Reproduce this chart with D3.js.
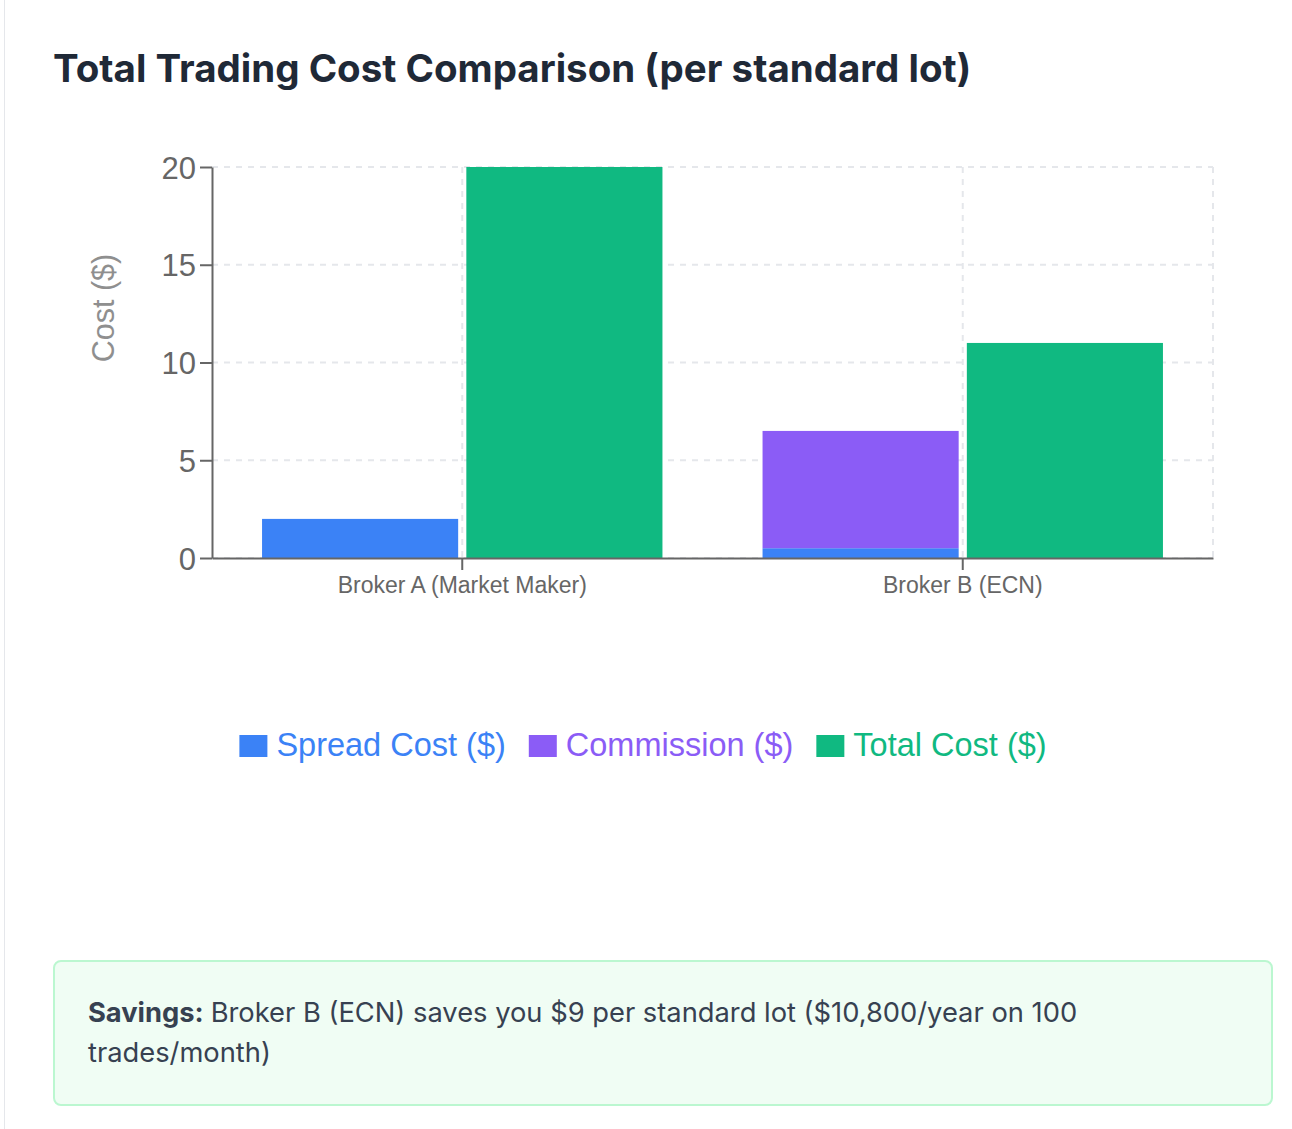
<!DOCTYPE html>
<html>
<head>
<meta charset="utf-8">
<script src="https://cdn.jsdelivr.net/npm/d3@7"></script>
<style>
  html, body { margin: 0; padding: 0; background: #fff; }
  body { width: 1292px; height: 1129px; position: relative; overflow: hidden; }
  .card {
    position: absolute; left: 4px; top: -20px; width: 1340px; height: 1200px;
    border: 1px solid #e5e7eb; border-radius: 10px; box-sizing: border-box;
  }
  #chart { position: absolute; left: 0; top: 0; }
  .savings {
    position: absolute; left: 53px; top: 960px; width: 1220px; height: 146px;
    box-sizing: border-box; background: #f0fdf4; border: 2px solid #bbf7d0;
    border-radius: 8px; padding: 31px 33px;
    font-family: Inter, "Noto Sans", sans-serif; font-size: 27.3px; line-height: 40px;
    color: #374151;
  }
  .savings p { margin: 0; max-width: 1050px; }
  .savings b { margin-right: 7px; }
</style>
</head>
<body>
<div class="card"></div>
<div id="chart"></div>
<div class="savings"><p><b>Savings:</b>Broker B (ECN) saves you $9 per standard lot ($10,800/year on 100 trades/month)</p></div>
<script>
// chart values
const categories = ["Broker A (Market Maker)", "Broker B (ECN)"];
const spreadCost = [2, 0.5];
const commission = [0, 6];
const totalCost = [20, 11];
const yTicks = [0, 5, 10, 15, 20];

const colors = { spread: "#3b82f6", commission: "#8b5cf6", total: "#10b981" };
const legendItems = [
    { label: "Spread Cost ($)", color: colors.spread },
    { label: "Commission ($)", color: colors.commission },
    { label: "Total Cost ($)", color: colors.total }
];

const width = 1292, height = 940;
const plot = { left: 212, right: 1213, top: 167, bottom: 558 };
const tickFont = "Helvetica, Arial, 'Liberation Sans', sans-serif";

const svg = d3.select("#chart").append("svg")
    .attr("width", width)
    .attr("height", height);

// Title
svg.append("text")
    .attr("x", 53).attr("y", 82)
    .style("font-family", "Inter, 'Noto Sans', sans-serif")
    .style("font-weight", 700)
    .style("font-size", "38.5px")
    .style("fill", "#1f2937")
    .text("Total Trading Cost Comparison (per standard lot)");

const x = d3.scaleBand()
    .domain(categories)
    .range([plot.left, plot.right]);

const y = d3.scaleLinear()
    .domain([0, 20])
    .range([plot.bottom, plot.top]);

// inner grouping: stacked (spread+commission) and total
const group = d3.scaleBand()
    .domain(["stack", "total"])
    .range([x.bandwidth() * 0.1, x.bandwidth() * 0.9])
    .paddingInner(8 / 200);

// Grid
const grid = svg.append("g")
    .attr("stroke", "#e5e7eb")
    .attr("stroke-width", 2)
    .attr("stroke-dasharray", "6 6");

grid.selectAll(".hgrid")
    .data(yTicks)
    .enter().append("line")
    .attr("x1", plot.left).attr("x2", plot.right)
    .attr("y1", d => y(d)).attr("y2", d => y(d));

const vLines = categories.map(c => x(c) + x.bandwidth() / 2).concat([plot.right]);
grid.selectAll(".vgrid")
    .data(vLines)
    .enter().append("line")
    .attr("x1", d => d).attr("x2", d => d)
    .attr("y1", plot.top).attr("y2", plot.bottom);

// Bars
const rows = categories.map((c, i) => ({
    cat: c, spread: spreadCost[i], commission: commission[i], total: totalCost[i]
}));

const bars = svg.append("g");
rows.forEach(r => {
    const g = bars.append("g").attr("transform", `translate(${x(r.cat)},0)`);
    g.append("rect")
        .attr("x", group("stack"))
        .attr("width", group.bandwidth())
        .attr("y", y(r.spread))
        .attr("height", y(0) - y(r.spread))
        .attr("fill", colors.spread);
    if (r.commission > 0) {
        g.append("rect")
            .attr("x", group("stack"))
            .attr("width", group.bandwidth())
            .attr("y", y(r.spread + r.commission))
            .attr("height", y(r.spread) - y(r.spread + r.commission))
            .attr("fill", colors.commission);
    }
    g.append("rect")
        .attr("x", group("total"))
        .attr("width", group.bandwidth())
        .attr("y", y(r.total))
        .attr("height", y(0) - y(r.total))
        .attr("fill", colors.total);
});

// Axes
const yAxis = svg.append("g")
    .attr("transform", `translate(${plot.left},0)`)
    .call(d3.axisLeft(y).tickValues(yTicks).tickSize(12).tickSizeOuter(0).tickPadding(4));
yAxis.select(".domain").attr("stroke", "#666").attr("stroke-width", 2);
yAxis.selectAll(".tick line").attr("stroke", "#666").attr("stroke-width", 2);
yAxis.selectAll(".tick text")
    .style("font-family", tickFont)
    .style("font-size", "31px")
    .attr("dy", "0.36em")
    .style("fill", "#666");

const xAxis = svg.append("g")
    .attr("transform", `translate(0,${plot.bottom})`)
    .call(d3.axisBottom(x).tickSize(12).tickSizeOuter(0).tickPadding(6));
xAxis.select(".domain").attr("stroke", "#666").attr("stroke-width", 2);
xAxis.selectAll(".tick line").attr("stroke", "#666").attr("stroke-width", 2);
xAxis.selectAll(".tick text")
    .style("font-family", tickFont)
    .style("font-size", "23px")
    .attr("dy", "0.74em")
    .style("fill", "#666");

// Y axis label
svg.append("text")
    .attr("transform", "translate(114,308) rotate(-90)")
    .attr("text-anchor", "middle")
    .style("font-family", tickFont)
    .style("font-size", "30.5px")
    .style("fill", "#8f8f8f")
    .text("Cost ($)");

// Legend
const legend = svg.append("g");
let lx = 0;
const items = [];
legendItems.forEach(it => {
    const g = legend.append("g");
    g.append("rect")
        .attr("x", 0).attr("y", -10)
        .attr("width", 28).attr("height", 22)
        .attr("fill", it.color);
    const t = g.append("text")
        .attr("x", 37).attr("y", 0)
        .attr("dy", "0.35em")
        .style("font-family", tickFont)
        .style("font-size", "32.5px")
        .style("fill", it.color)
        .text(it.label);
    items.push({ g, w: 37 + t.node().getComputedTextLength() });
});
const gap = 23;
const totalW = d3.sum(items, d => d.w) + gap * (items.length - 1);
lx = 643 - totalW / 2;
items.forEach(d => {
    d.g.attr("transform", `translate(${lx},745)`);
    lx += d.w + gap;
});
</script>
</body>
</html>
